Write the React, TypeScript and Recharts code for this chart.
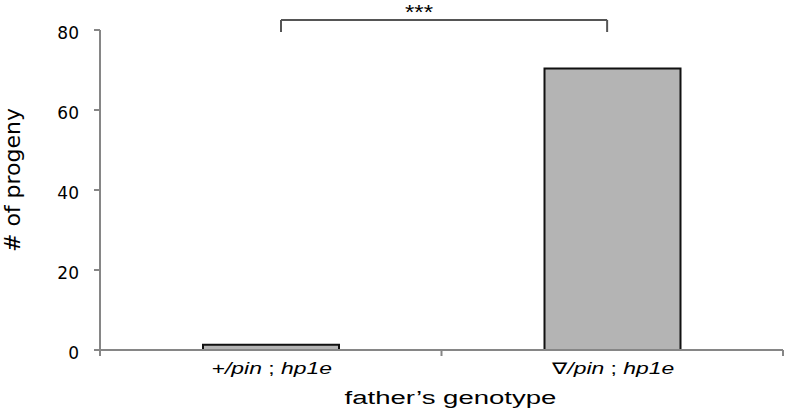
import React from 'react';
import { BarChart, Bar, XAxis, YAxis, ReferenceLine, ReferenceDot } from 'recharts';

// ---- data ----
const genotypes = ['+/pin ; hp1e', '∇/pin ; hp1e'];
const progeny = [1.3, 70.4];
const yTicks = [0, 20, 40, 60, 80];
const yDomain = [0, 80];
const yLabel = '# of progeny';
const xLabel = 'father’s genotype';
const significance = '***';
// bracket annotation, in category-index units (0..2) and value units
const bracketFrom = 0.53;
const bracketTo = 1.485;
const bracketY = 82.5;
const bracketLegY = 79.5;
const starsX = 0.934;
const starsY = 82.75;

const data = genotypes.map((g, i) => ({ genotype: g, progeny: progeny[i], pos: i + 0.5 }));

// ---- layout ----
const W = 786;
const H = 413;
const MARGIN = { top: 30, right: 3, bottom: 0, left: 0 };
const Y_W = 100;
const X_H = 63;
const BAND = (W - MARGIN.left - MARGIN.right - Y_W) / genotypes.length;
const AXIS = '#868686';

const XTick = (props: any) => {
  const { x, y, payload, index } = props;
  const value: string = payload.value;
  const [left, right] = value.split(' ; ');
  const slash = left.indexOf('/');
  const mark = left.slice(0, slash);
  const rest = left.slice(slash);
  return (
    <g>
      {index === 0 && (
        <line x1={x - BAND / 2} x2={x - BAND / 2} y1={y} y2={y + 6} stroke={AXIS} strokeWidth={2} />
      )}
      <line x1={x + BAND / 2} x2={x + BAND / 2} y1={y} y2={y + 6} stroke={AXIS} strokeWidth={2} />
      <text
        transform={`translate(${x + 1},${y + 24}) scale(1.43,1)`}
        textAnchor="middle"
        fontFamily="'Liberation Sans', Arial, sans-serif"
        fontSize={16}
        fill="#000"
      >
        <tspan>{mark}</tspan>
        <tspan fontStyle="italic">{rest}</tspan>
        <tspan> ; </tspan>
        <tspan fontStyle="italic">{right}</tspan>
      </text>
    </g>
  );
};

const YTick = (props: any) => {
  const { x, y, payload } = props;
  return (
    <text
      x={x}
      y={y + 9}
      textAnchor="end"
      fontFamily="'DejaVu Sans', Verdana, sans-serif"
      fontSize={17}
      fill="#000"
    >
      {payload.value}
    </text>
  );
};

const XLabel = (props: any) => {
  const vb = props.viewBox || {};
  const cx = vb.x + vb.width / 2 + 9;
  const by = vb.y + 54;
  return (
    <text
      transform={`translate(${cx},${by}) scale(1.45,1)`}
      textAnchor="middle"
      fontFamily="'Liberation Sans', Arial, sans-serif"
      fontSize={19}
      fill="#000"
    >
      {xLabel}
    </text>
  );
};

const YLabel = () => {
  const cy = 180;
  const bx = 20;
  return (
    <text
      x={bx}
      y={cy}
      transform={`rotate(-90, ${bx}, ${cy})`}
      textAnchor="middle"
      fontFamily="'DejaVu Sans', Verdana, sans-serif"
      fontSize={22}
      fill="#000"
    >
      {yLabel}
    </text>
  );
};

const Stars = (props: any) => {
  const { cx, cy } = props;
  return (
    <text
      transform={`translate(${cx},${cy}) scale(1.2,1)`}
      textAnchor="middle"
      fontFamily="'Liberation Sans', Arial, sans-serif"
      fontSize={20}
      fill="#000"
    >
      {significance}
    </text>
  );
};

export default function App() {
  return (
    <div style={{ position: 'absolute', left: 0, top: 0, width: W, height: H, background: '#fff' }}>
      <BarChart width={W} height={H} data={data} margin={MARGIN} barSize={136}>
        <XAxis
          dataKey="genotype"
          xAxisId={0}
          height={X_H}
          tick={<XTick />}
          tickLine={false}
          tickSize={0}
          tickMargin={0}
          axisLine={{ stroke: AXIS, strokeWidth: 2 }}
          interval={0}
          label={<XLabel />}
        />
        <XAxis
          xAxisId="n"
          dataKey="pos"
          type="number"
          domain={[0, genotypes.length]}
          allowDataOverflow
          hide
        />
        <YAxis
          width={Y_W}
          domain={yDomain}
          ticks={yTicks}
          interval={0}
          tickSize={6}
          tickMargin={15}
          tick={<YTick />}
          tickLine={{ stroke: AXIS, strokeWidth: 2 }}
          axisLine={{ stroke: AXIS, strokeWidth: 2 }}
          label={<YLabel />}
        />
        <Bar
          dataKey="progeny"
          xAxisId={0}
          fill="#b4b4b4"
          stroke="#111"
          strokeWidth={2}
          isAnimationActive={false}
        />
        <ReferenceLine
          xAxisId="n"
          ifOverflow="visible"
          segment={[{ x: bracketFrom, y: bracketLegY }, { x: bracketFrom, y: bracketY }]}
          stroke="#555"
          strokeWidth={2}
        />
        <ReferenceLine
          xAxisId="n"
          ifOverflow="visible"
          segment={[{ x: bracketFrom, y: bracketY }, { x: bracketTo, y: bracketY }]}
          stroke="#555"
          strokeWidth={2}
        />
        <ReferenceLine
          xAxisId="n"
          ifOverflow="visible"
          segment={[{ x: bracketTo, y: bracketY }, { x: bracketTo, y: bracketLegY }]}
          stroke="#555"
          strokeWidth={2}
        />
        <ReferenceDot
          xAxisId="n"
          x={starsX}
          y={starsY}
          r={1}
          ifOverflow="visible"
          shape={<Stars />}
        />
      </BarChart>
    </div>
  );
}
